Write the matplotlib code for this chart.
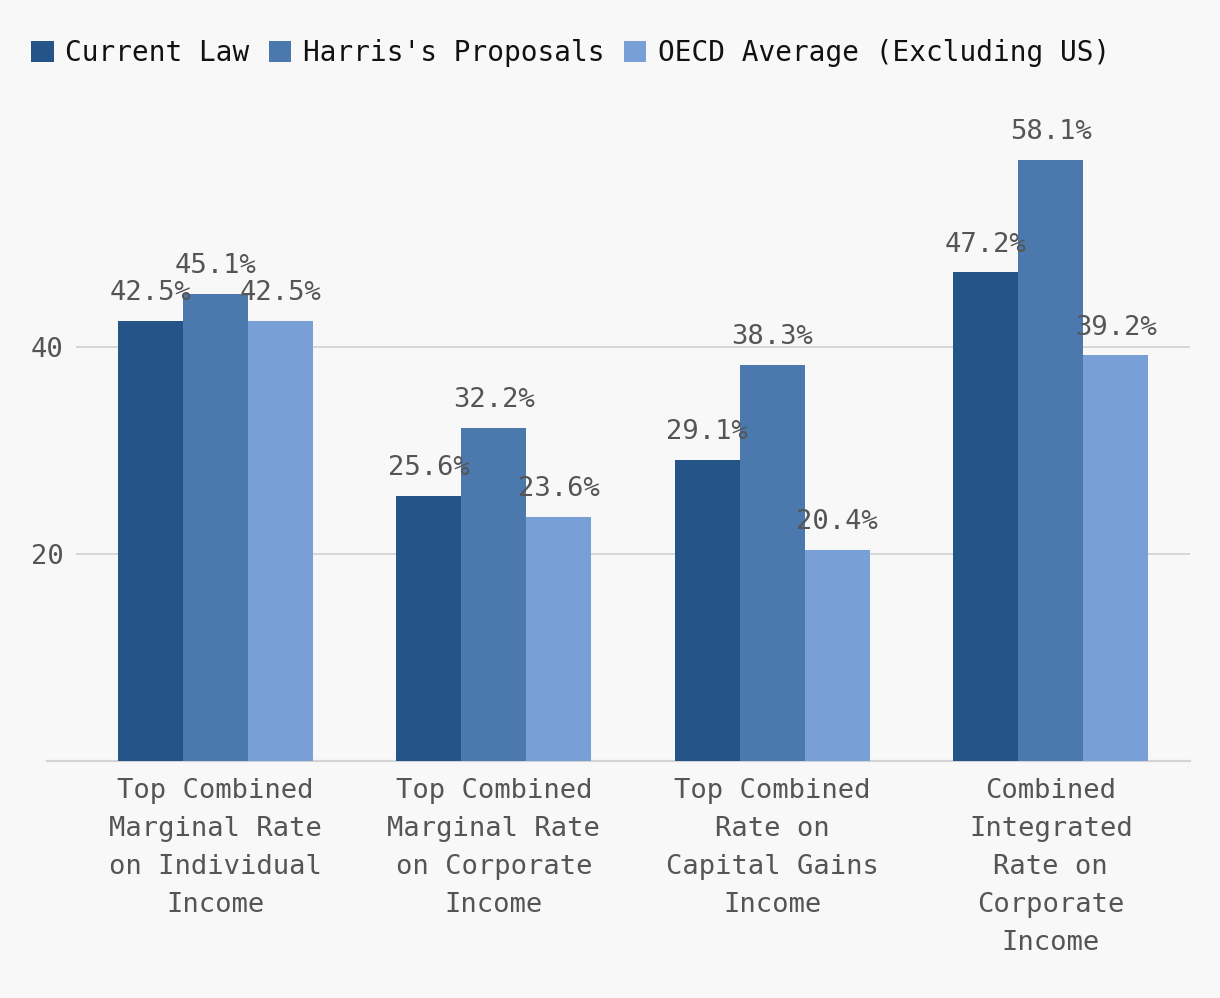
import matplotlib
matplotlib.use("Agg")
import matplotlib.pyplot as plt
from matplotlib.patches import Patch
import numpy as np

categories = ["Top Combined\nMarginal Rate\non Individual\nIncome",
              "Top Combined\nMarginal Rate\non Corporate\nIncome",
              "Top Combined\nRate on\nCapital Gains\nIncome",
              "Combined\nIntegrated\nRate on\nCorporate\nIncome"]
series_names = ["Current Law", "Harris's Proposals", "OECD Average (Excluding US)"]
current_law = [42.5, 25.6, 29.1, 47.2]
harris = [45.1, 32.2, 38.3, 58.1]
oecd = [42.5, 23.6, 20.4, 39.2]
yticks = [20, 40]

colors = ["#245488", "#4b78ad", "#789fd6"]
bg = "#f8f8f8"
font = "DejaVu Sans Mono"
plt.rcParams['font.family'] = [font]

fig = plt.figure(figsize=(12.2, 9.98), dpi=100, facecolor=bg)
ax = fig.add_axes([76/1220, 1 - 761/998, (1190-76)/1220, (761-140)/998])
ax.set_facecolor(bg)

x = np.arange(len(categories))
w = 65/278.5
for i, (vals, c) in enumerate(zip([current_law, harris, oecd], colors)):
    bars = ax.bar(x + (i-1)*w, vals, width=w, color=c, zorder=3)
    for xi, v in zip(x + (i-1)*w, vals):
        ax.annotate(f"{v}%", (xi, v), xytext=(0, 20), textcoords="offset points",
                    ha="center", va="center", fontsize=19.5, color="#555555", zorder=4)

ax.set_xlim(-0.5, 3.5)
ax.set_ylim(0, 60)
ax.set_yticks(yticks)
ax.set_yticklabels([str(t) for t in yticks], fontsize=19.5, color="#555555")
ax.grid(axis="y", color="#d4d4d4", linewidth=1.3, zorder=0)
ax.set_xticks(x)
ax.set_xticklabels(categories, fontsize=19.5, color="#555555", linespacing=1.6)
ax.tick_params(axis="both", length=0)
ax.tick_params(axis="y", pad=9)
ax.tick_params(axis="x", pad=12)
for s in ax.spines.values():
    s.set_visible(False)
ax.plot([-(76-47)/278.5 - 0.5, 3.5], [0, 0], color="#d4d4d4", linewidth=1.6,
        clip_on=False, zorder=2)

handles = [Patch(facecolor=c, edgecolor="none") for c in colors]
fig.legend(handles, series_names, loc="upper left", bbox_to_anchor=(23/1220, 1 - 31/998),
           ncol=3, frameon=False, fontsize=20, handlelength=0.8, handleheight=0.8,
           handletextpad=0.42, columnspacing=0.7, borderaxespad=0, borderpad=0.3,
           labelcolor="#111111")

fig.savefig("out.png", dpi=100, facecolor=bg)
